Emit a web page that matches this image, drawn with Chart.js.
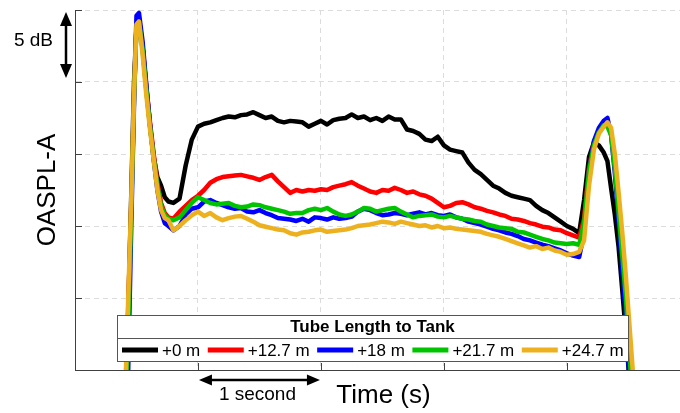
<!DOCTYPE html>
<html>
<head>
<meta charset="utf-8">
<script src="https://cdn.jsdelivr.net/npm/chart.js@4"></script>
<style>
  body { margin: 0; background: #fff; }
  canvas { display: block; }
</style>
</head>
<body>
<canvas id="chart" width="680" height="413"></canvas>
<script>
// time in seconds (shared by all series)
const time = [
  0.40, 0.43, 0.46, 0.48, 0.50, 0.52, 0.55, 0.58, 0.61, 0.64, 0.67, 0.70, 0.73, 0.76, 0.80, 0.85, 0.90, 0.95,
  1.00, 1.05, 1.10, 1.15, 1.20, 1.25, 1.30, 1.35, 1.40, 1.45,
  1.50, 1.55, 1.60, 1.65, 1.70, 1.75, 1.80, 1.85, 1.90, 1.95,
  2.00, 2.05, 2.10, 2.15, 2.20, 2.25, 2.30, 2.35, 2.40, 2.45,
  2.50, 2.55, 2.60, 2.65, 2.70, 2.75, 2.80, 2.85, 2.90, 2.95,
  3.00, 3.05, 3.10, 3.15, 3.20, 3.25, 3.30, 3.35, 3.40, 3.45,
  3.50, 3.55, 3.60, 3.65, 3.70, 3.75, 3.80, 3.85, 3.90, 3.95,
  4.00, 4.05, 4.10,
  4.14, 4.18, 4.22, 4.26, 4.30, 4.33, 4.36, 4.39, 4.42, 4.45, 4.48, 4.51, 4.54, 4.58
];

// OASPL-A in dB (relative, 5 dB per grid step)
const tube0 = [
  -4, 3, 13, 20, 23.8, 24.0, 22.4, 19.6, 17.0, 14.8, 13.4, 12.8, 12.0, 11.7, 11.6, 11.9, 14.2, 16.0,
  16.9, 17.1, 17.2, 17.35, 17.5, 17.6, 17.55, 17.7, 17.75, 17.9,
  17.7, 17.5, 17.6, 17.3, 17.2, 17.3, 17.25, 17.2, 16.9, 17.1,
  17.3, 17.05, 17.35, 17.45, 17.5, 17.75, 17.5, 17.6, 17.35, 17.5,
  17.3, 17.6, 17.4, 17.4, 16.7, 16.6, 16.4, 16.0, 15.9, 16.2,
  15.6, 15.3, 15.2, 15.1, 14.4, 13.9, 13.6, 13.2, 12.8, 12.6,
  12.3, 12.1, 12.0, 11.9, 11.8, 11.4, 11.1, 10.9, 10.6, 10.3,
  10.0, 9.8, 9.5,
  11.8, 14.8, 15.8, 15.6, 15.1, 14.5, 12.6, 10.8, 8.6, 5.6, 2.5, -0.8, -4, -8
];
const tube12 = [
  -4, 3.5, 12.2, 19, 24.0, 24.4, 22.4, 19.6, 17.2, 15.0, 13.0, 11.6, 10.9, 10.6, 10.5, 11.0, 11.4, 11.8,
  12.1, 12.5, 13.0, 13.25, 13.4, 13.45, 13.5, 13.55, 13.45, 13.35,
  13.2, 13.4, 13.55, 13.1, 12.7, 12.3, 12.5, 12.4, 12.5, 12.45,
  12.55, 12.5, 12.7, 12.8, 12.9, 13.05, 12.8, 12.6, 12.4, 12.3,
  12.5, 12.45, 12.65, 12.5, 12.3, 12.4, 12.2, 12.1, 11.9, 11.6,
  11.3, 11.4, 11.6, 11.65, 11.5, 11.3, 11.2, 11.05, 10.95, 10.8,
  10.7, 10.5, 10.45, 10.35, 10.2, 10.1, 9.95, 9.9, 9.75, 9.7,
  9.5, 9.35, 9.2,
  10.5, 14.0, 15.8, 16.6, 17.0, 17.1, 16.5, 14.3, 11.4, 8.4, 5.3, 1.8, -2, -6
];
const tube18 = [
  -6, -1, 11, 18.5, 24.6, 24.8, 22.8, 19.8, 17.0, 14.6, 12.5, 11.0, 10.2, 10.0, 9.7, 10.0, 10.8, 11.2,
  11.3, 11.7, 11.8, 11.6, 11.45, 11.3, 11.2, 11.25, 11.0, 10.95,
  11.1, 10.9, 10.75, 10.55, 10.5, 10.45, 10.35, 10.5, 10.3, 10.6,
  10.55, 10.45, 10.6, 10.5, 10.55, 10.65, 11.0, 11.2, 11.1, 10.9,
  10.75, 10.8, 10.9, 10.85, 10.75, 10.85, 10.95, 10.8, 10.9, 10.75,
  10.7, 10.8, 10.6, 10.5, 10.3, 10.2, 10.1, 9.95, 9.8, 9.7,
  9.55, 9.45, 9.3, 9.1, 9.0, 8.85, 8.7, 8.6, 8.45, 8.3,
  8.1, 7.95, 7.85,
  9.5, 13.8, 15.9, 16.8, 17.3, 17.5, 16.3, 13.7, 10.4, 7.0, 3.6, -1.0, -4, -8
];
const tube21 = [
  -5, 2, 12, 19, 23.8, 24.2, 22.2, 19.4, 16.9, 14.7, 12.8, 11.4, 10.75, 10.5, 10.4, 10.6, 11.1, 11.6,
  12.0, 11.8, 11.6, 11.5, 11.55, 11.6, 11.4, 11.3, 11.35, 11.5,
  11.45, 11.3, 11.2, 11.1, 11.0, 10.85, 10.9, 10.9, 11.1, 11.2,
  11.1, 11.25, 11.0, 10.8, 10.7, 10.8, 11.0, 11.25, 11.2, 11.0,
  11.1, 11.2, 11.25, 11.0, 10.8, 10.6, 10.7, 10.75, 10.8, 10.65,
  10.6, 10.7, 10.6, 10.5, 10.45, 10.35, 10.3, 10.1, 10.0, 9.9,
  9.85, 9.8, 9.6, 9.55, 9.4, 9.25, 9.1, 9.0, 8.85, 8.8,
  8.75, 8.8, 8.7,
  10.2, 13.8, 15.6, 16.5, 17.0, 16.9, 16.3, 14.0, 11.0, 8.0, 5.0, 1.0, -3, -7
];
const tube24 = [
  -4, 4.2, 12.5, 19.1, 24.0, 24.2, 21.9, 19.1, 16.7, 14.6, 12.5, 11.1, 10.55, 10.4, 9.7, 10.0, 10.4, 10.75,
  11.0, 10.7, 10.9, 10.6, 10.4, 10.55, 10.65, 10.7, 10.5, 10.3,
  10.05, 9.95, 9.85, 9.75, 9.7, 9.5, 9.4, 9.55, 9.6, 9.7,
  9.75, 9.6, 9.65, 9.7, 9.75, 9.85, 10.0, 10.05, 10.1, 10.2,
  10.3, 10.25, 10.15, 10.3, 10.2, 10.1, 10.0, 10.05, 9.9, 10.0,
  9.85, 9.9, 9.8, 9.75, 9.7, 9.65, 9.6, 9.45, 9.35, 9.25,
  9.1, 8.95, 8.8, 8.65, 8.5, 8.6, 8.4, 8.5, 8.3, 8.2,
  8.0, 8.05, 8.2,
  9.0, 12.8, 15.3, 16.4, 16.9, 17.2, 16.8, 15.0, 12.4, 9.6, 6.5, 3.0, -0.5, -5
];

const seriesLabels = ['+0 m', '+12.7 m', '+18 m', '+21.7 m', '+24.7 m'];
const seriesColors = ['#000000', '#ff0000', '#0000ff', '#00c400', '#edb120'];
const seriesValues = [tube0, tube12, tube18, tube21, tube24];

const legendTitle = 'Tube Length to Tank';
const yTitle = 'OASPL-A';
const xTitle = 'Time (s)';
const dbLabel = '5 dB';
const secLabel = '1 second';

const FONT = '"Liberation Sans", Arial, Helvetica, sans-serif';
const AXIS_COLOR = '#404040';

function arrowHead(ctx, x, y, dx, dy, len, half) {
  // tip at (x,y), pointing in direction (dx,dy)
  ctx.beginPath();
  ctx.moveTo(x, y);
  ctx.lineTo(x - dx * len - dy * half, y - dy * len + dx * half);
  ctx.lineTo(x - dx * len + dy * half, y - dy * len - dx * half);
  ctx.closePath();
  ctx.fill();
}

const decor = {
  id: 'decor',
  beforeDatasetsDraw(chart) {
    // inner tick marks
    const { ctx, chartArea: a, scales } = chart;
    ctx.save();
    ctx.strokeStyle = AXIS_COLOR;
    ctx.lineWidth = 1;
    scales.y.ticks.forEach(t => {
      const y = Math.round(scales.y.getPixelForValue(t.value)) + 0.5;
      ctx.beginPath(); ctx.moveTo(a.left, y); ctx.lineTo(a.left + 7, y); ctx.stroke();
    });
    scales.x.ticks.forEach(t => {
      if (t.value === 0) return;
      const x = Math.round(scales.x.getPixelForValue(t.value)) + 0.5;
      ctx.beginPath(); ctx.moveTo(x, a.bottom); ctx.lineTo(x, a.bottom - 7); ctx.stroke();
    });
    ctx.restore();
  },
  afterDatasetsDraw(chart) {
    const { ctx, chartArea: a } = chart;
    ctx.save();

    // legend box
    const bx = a.left + 42, bw = 511, by = a.bottom - 55, bh = 46, split = 23;
    ctx.fillStyle = '#fff';
    ctx.fillRect(bx, by, bw, bh);
    ctx.strokeStyle = '#555';
    ctx.lineWidth = 1;
    ctx.strokeRect(bx + 0.5, by + 0.5, bw, bh);
    ctx.beginPath();
    ctx.moveTo(bx, by + split + 0.5); ctx.lineTo(bx + bw, by + split + 0.5); ctx.stroke();

    ctx.fillStyle = '#000';
    ctx.font = 'bold 17px ' + FONT;
    ctx.textAlign = 'center';
    ctx.textBaseline = 'middle';
    ctx.fillText(legendTitle, bx + bw / 2, by + split / 2 + 1);

    ctx.font = '17px ' + FONT;
    ctx.textAlign = 'left';
    let x = bx + 5;
    const iy = by + split + (bh - split) / 2 + 0.5;
    seriesLabels.forEach((lab, i) => {
      ctx.strokeStyle = seriesColors[i];
      ctx.lineWidth = 5;
      ctx.beginPath(); ctx.moveTo(x, iy); ctx.lineTo(x + 36, iy); ctx.stroke();
      x += 40;
      ctx.fillStyle = '#000';
      ctx.fillText(lab, x, iy + 1);
      x += ctx.measureText(lab).width + 7.5;
    });

    ctx.restore();
  },
  afterDraw(chart) {
    const { ctx, chartArea: a, scales } = chart;
    ctx.save();
    ctx.fillStyle = '#000';
    ctx.strokeStyle = '#000';

    // 5 dB arrow
    const ax = a.left - 9;
    const yTop = scales.y.getPixelForValue(25);
    const yBot = scales.y.getPixelForValue(20);
    ctx.lineWidth = 2.5;
    ctx.beginPath(); ctx.moveTo(ax, yTop + 8); ctx.lineTo(ax, yBot - 8); ctx.stroke();
    arrowHead(ctx, ax, yTop + 2, 0, -1, 14, 6);
    arrowHead(ctx, ax, yBot - 4, 0, 1, 14, 6);
    ctx.font = '19px ' + FONT;
    ctx.textAlign = 'right';
    ctx.textBaseline = 'middle';
    ctx.fillText(dbLabel, 53, (yTop + yBot) / 2 - 5);

    // 1 second arrow
    const x1 = scales.x.getPixelForValue(1) + 1;
    const x2 = scales.x.getPixelForValue(2) - 1;
    const ay = a.bottom + 10;
    ctx.beginPath(); ctx.moveTo(x1 + 8, ay); ctx.lineTo(x2 - 8, ay); ctx.stroke();
    arrowHead(ctx, x1, ay, -1, 0, 13, 5.5);
    arrowHead(ctx, x2, ay, 1, 0, 13, 5.5);
    ctx.textAlign = 'center';
    ctx.fillText(secLabel, (x1 + x2) / 2 - 2, a.bottom + 25);

    // axis titles
    ctx.font = '26px ' + FONT;
    ctx.fillText(xTitle, (a.left + a.right) / 2 + 6, a.bottom + 26);
    ctx.translate(48, (a.top + a.bottom) / 2);
    ctx.rotate(-Math.PI / 2);
    ctx.fillText(yTitle, 0, 0);
    ctx.restore();
  }
};

const datasets = seriesValues.map((vals, i) => ({
  label: seriesLabels[i],
  data: vals.map((v, j) => ({ x: time[j], y: v })),
  borderColor: seriesColors[i],
  backgroundColor: seriesColors[i],
  borderWidth: 4.5,
  pointRadius: 0,
  tension: 0,
  borderJoinStyle: 'round',
  borderCapStyle: 'round',
  clip: 0,
  order: seriesValues.length - i
}));

const gridStyle = { color: '#dcdcdc', lineWidth: 1, drawTicks: false };
const borderStyle = { color: AXIS_COLOR, width: 1, dash: [5, 4] };

new Chart(document.getElementById('chart').getContext('2d'), {
  type: 'line',
  data: { datasets },
  options: {
    responsive: false,
    animation: false,
    layout: { padding: { left: 75, top: 10, right: 0, bottom: 43 } },
    plugins: { legend: { display: false }, tooltip: { enabled: false } },
    scales: {
      x: {
        type: 'linear',
        min: 0,
        max: 4.92,
        ticks: { display: false, stepSize: 1, includeBounds: false },
        grid: gridStyle,
        border: borderStyle
      },
      y: {
        min: 0,
        max: 25,
        ticks: { display: false, stepSize: 5 },
        grid: gridStyle,
        border: borderStyle
      }
    }
  },
  plugins: [decor]
});
</script>
</body>
</html>
